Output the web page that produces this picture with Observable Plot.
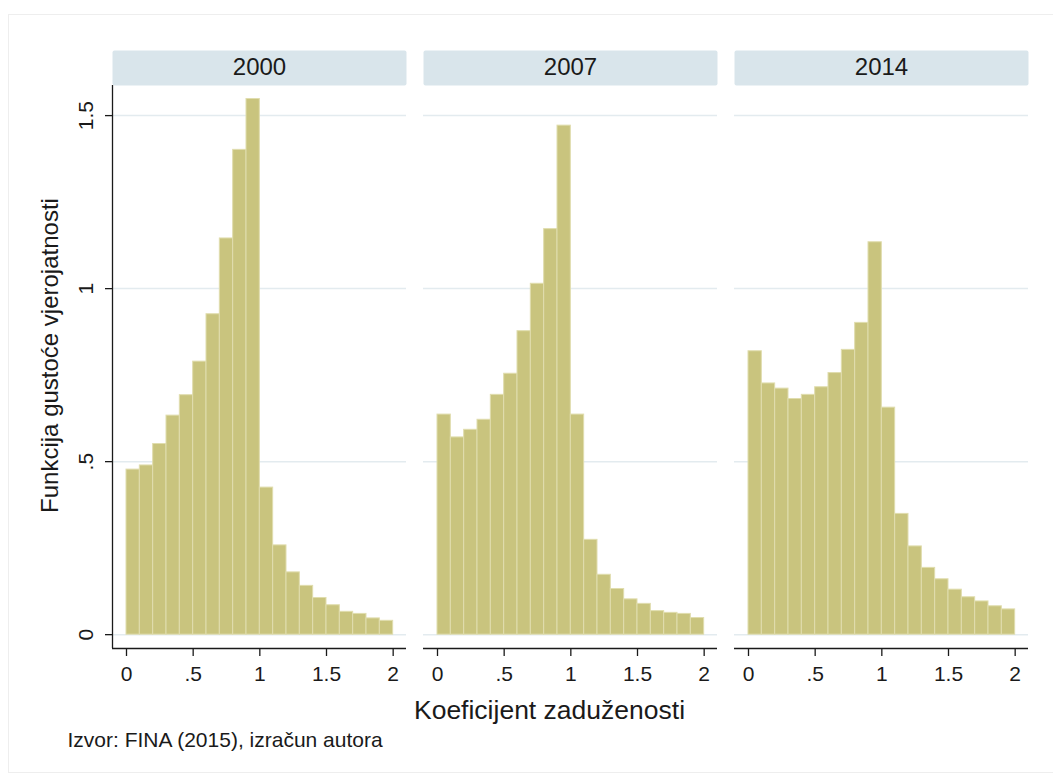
<!DOCTYPE html>
<html>
<head>
<meta charset="utf-8">
<script src="https://cdn.jsdelivr.net/npm/d3@7"></script>
<script src="https://cdn.jsdelivr.net/npm/@observablehq/plot@0.6"></script>
<style>
  html, body { margin: 0; padding: 0; background: #fff; }
  #wrap { position: relative; width: 1053px; height: 776px; overflow: hidden; }
  #border { position: absolute; left: 8px; top: 14px; width: 1060px; height: 759px; border: 1px solid #eeeeee; box-sizing: border-box; }
  #chart { position: absolute; left: 0; top: 0; }
</style>
</head>
<body>
<div id="wrap"><div id="border"></div><div id="chart"></div></div>
<script>
// ---- data ----
const years = ["2000", "2007", "2014"];
const binStarts = [0, 0.1, 0.2, 0.3, 0.4, 0.5, 0.6, 0.7, 0.8, 0.9, 1.0, 1.1, 1.2, 1.3, 1.4, 1.5, 1.6, 1.7, 1.8, 1.9];
const binWidth = 0.1;
const density2000 = [0.477, 0.489, 0.551, 0.633, 0.692, 0.789, 0.926, 1.145, 1.401, 1.548, 0.425, 0.258, 0.180, 0.141, 0.106, 0.085, 0.066, 0.060, 0.047, 0.040];
const density2007 = [0.636, 0.570, 0.592, 0.621, 0.693, 0.754, 0.877, 1.014, 1.172, 1.471, 0.636, 0.274, 0.173, 0.132, 0.102, 0.089, 0.068, 0.063, 0.060, 0.048];
const density2014 = [0.819, 0.726, 0.711, 0.681, 0.693, 0.715, 0.756, 0.823, 0.901, 1.134, 0.656, 0.349, 0.255, 0.193, 0.160, 0.130, 0.108, 0.096, 0.082, 0.073];
const xTickValues = [0, 0.5, 1, 1.5, 2];
const xTickLabels = ["0", ".5", "1", "1.5", "2"];
const yTickValues = [0, 0.5, 1, 1.5];
const yTickLabels = ["0", ".5", "1", "1.5"];
const yTitle = "Funkcija gustoće vjerojatnosti";
const xTitle = "Koeficijent zaduženosti";
const captionText = "Izvor: FINA (2015), izračun autora";

// ---- build table ----
const densities = [density2000, density2007, density2014];
const table = years.flatMap((yr, i) => densities[i].map((v, j) => ({
  year: yr, x1: binStarts[j], x2: binStarts[j] + binWidth, density: v
})));
const yTickTable = yTickValues.map((v, i) => ({year: years[0], v, label: yTickLabels[i]}));

const xMin = -0.105, xMax = 2.1;
const yMin = -0.04, yMax = 1.587;
const font = "'Liberation Sans', Arial, Helvetica, sans-serif";
const barFill = "#c9c47e";
const barStroke = "#e0ddae";
const headerFill = "#d9e5eb";
const gridColor = "#e3ebef";
const ink = "#1a1a1a";

const chart = Plot.plot({
  width: 1053,
  height: 776,
  marginLeft: 112,
  marginRight: 24,
  marginTop: 85,
  marginBottom: 128,
  style: {fontFamily: font, background: "transparent", overflow: "visible", color: ink},
  fx: {domain: years, paddingInner: 0.0546, paddingOuter: 0, axis: null},
  x: {domain: [xMin, xMax]},
  y: {domain: [yMin, yMax]},
  marks: [
    // facet header strips
    Plot.frame({fill: headerFill, stroke: null, insetTop: -35, insetBottom: 563, rx: 2}),
    Plot.text(years, {fx: d => d, text: d => d, frameAnchor: "top", dy: -18.5, lineAnchor: "middle", fontSize: 24, fill: ink}),
    // gridlines
    Plot.ruleY(yTickValues, {stroke: gridColor, strokeWidth: 1.5}),
    // histogram bars
    Plot.rectY(table, {fx: "year", x1: "x1", x2: "x2", y: "density", fill: barFill, stroke: barStroke, strokeWidth: 1}),
    // axis lines
    Plot.ruleY([yMin], {stroke: ink, strokeWidth: 1.3}),
    Plot.ruleX([{year: years[0]}], {fx: "year", x: xMin, y1: yMin, y2: yMax, stroke: ink, strokeWidth: 1.3}),
    // x axis ticks + labels
    Plot.axisX({ticks: xTickValues, tickFormat: d => xTickLabels[xTickValues.indexOf(d)], tickSize: 8, tickPadding: 10, fontSize: 21, stroke: ink, strokeWidth: 1.3, fill: ink, label: null}),
    // y axis ticks
    Plot.axisY({ticks: yTickValues, tickFormat: () => "", tickSize: 7, stroke: ink, strokeWidth: 1.3, label: null}),
    // y tick labels (rotated)
    Plot.text(yTickTable, {fx: "year", x: xMin, y: "v", text: "label", rotate: -90, textAnchor: "middle", lineAnchor: "bottom", dx: -20, fontSize: 21, fill: ink}),
    // axis titles and caption
    Plot.text([{year: years[0], label: yTitle}], {fx: "year", text: "label", frameAnchor: "left", rotate: -90, textAnchor: "middle", lineAnchor: "bottom", dx: -55, dy: -11.5, fontSize: 24, fill: ink}),
    Plot.text([{year: years[1], label: xTitle}], {fx: "year", text: "label", frameAnchor: "bottom", lineAnchor: "bottom", dx: -21, dy: 70, fontSize: 26.5, fill: ink}),
    Plot.text([{year: years[0], label: captionText}], {fx: "year", text: "label", frameAnchor: "bottom-left", textAnchor: "start", lineAnchor: "bottom", dx: -45, dy: 98.5, fontSize: 21, fill: ink})
  ]
});
document.getElementById("chart").appendChild(chart);
</script>
</body>
</html>
